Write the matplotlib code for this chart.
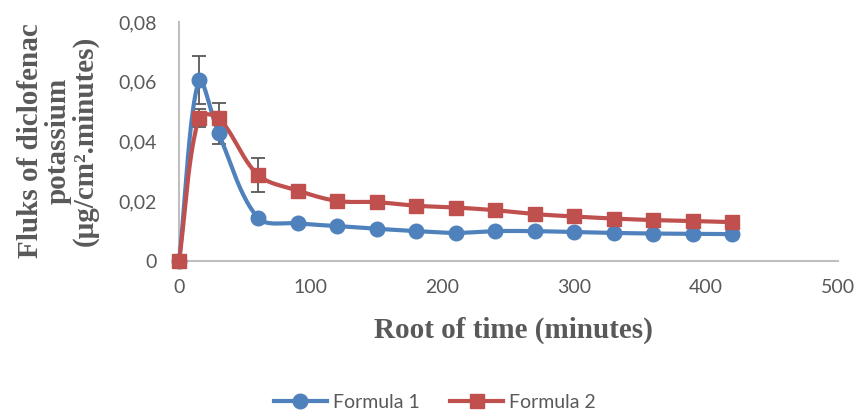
import numpy as np
import matplotlib
matplotlib.use("Agg")
import matplotlib.pyplot as plt
from matplotlib.ticker import FuncFormatter

time = [0, 15, 30, 60, 90, 120, 150, 180, 210, 240, 270, 300, 330, 360, 390, 420]
formula1 = [0, 0.0605, 0.0428, 0.0144, 0.0126, 0.0117, 0.0108, 0.0100, 0.0094, 0.0100,
            0.0100, 0.0097, 0.0094, 0.0092, 0.0091, 0.0090]
formula2 = [0, 0.0480, 0.0478, 0.0288, 0.0236, 0.0201, 0.0197, 0.0185, 0.0179, 0.0170,
            0.0157, 0.0149, 0.0142, 0.0137, 0.0134, 0.0130]
err1 = [0, 0.0080, 0.0035, 0.0008, 0.0006, 0.0005, 0.0005, 0.0004, 0.0004, 0.0004,
        0.0004, 0.0004, 0.0003, 0.0003, 0.0003, 0.0003]
err2 = [0, 0.0030, 0.0050, 0.0058, 0.0010, 0.0008, 0.0015, 0.0018, 0.0008, 0.0007,
        0.0006, 0.0006, 0.0005, 0.0005, 0.0005, 0.0005]
labels = ["Formula 1", "Formula 2"]
colors = ["#4f81bd", "#c0504d"]

fig = plt.figure(figsize=(8.61, 4.12), dpi=100)
ax = fig.add_axes([0.208, 0.3665, 0.765, 0.580])
ax.set_xlim(0, 500)
ax.set_ylim(0, 0.08)


def smooth(x, y, n=24):
    # chord-length weighted Bezier smoothing computed in display space
    pts = ax.transData.transform(np.column_stack([x, y]))
    P = np.vstack([pts[0], pts, pts[-1]])
    t = np.linspace(0, 1, n)[:, None]
    out = []
    for i in range(1, len(P) - 2):
        p0, p1, p2, p3 = P[i - 1], P[i], P[i + 1], P[i + 2]
        d01 = np.linalg.norm(p1 - p0); d12 = np.linalg.norm(p2 - p1); d23 = np.linalg.norm(p3 - p2)
        f1 = d12 / (d01 + d12) / 3 if d01 + d12 > 0 else 0
        f2 = d12 / (d12 + d23) / 3 if d12 + d23 > 0 else 0
        c1 = p1 + (p2 - p0) * f1
        c2 = p2 - (p3 - p1) * f2
        b = ((1 - t) ** 3) * p1 + 3 * ((1 - t) ** 2) * t * c1 + 3 * (1 - t) * t ** 2 * c2 + t ** 3 * p2
        out.append(b)
    out = np.vstack(out)
    return ax.transData.inverted().transform(out).T


gray = "#595959"
for ys, es, c, m, lab in [(formula1, err1, colors[0], "o", labels[0]),
                          (formula2, err2, colors[1], "s", labels[1])]:
    sx, sy = smooth(time, ys)
    ax.errorbar(time, ys, yerr=es, fmt="none", ecolor=gray, elinewidth=1.3,
                capsize=5, capthick=1.3, zorder=2)
    ax.plot(sx, sy, color=c, lw=3, zorder=3, solid_capstyle="round", clip_on=False)
    ax.plot(time, ys, linestyle="none", marker=m, color=c, markersize=10.5, zorder=4,
            clip_on=False)
    ax.plot([], [], color=c, lw=3, marker=m, markersize=10.5, label=lab)

ax.set_xticks(np.arange(0, 501, 100))
ax.set_yticks(np.arange(0, 0.081, 0.02))
ax.yaxis.set_major_formatter(FuncFormatter(lambda v, p: "0" if v == 0 else f"{v:.2f}".replace(".", ",")))
ax.tick_params(length=0, labelsize=14, colors=gray)
ax.tick_params(axis="y", pad=16)
ax.tick_params(axis="x", pad=13)
for lab in ax.get_xticklabels() + ax.get_yticklabels():
    lab.set_fontfamily("Lato")
for s in ["top", "right"]:
    ax.spines[s].set_visible(False)
for s in ["left", "bottom"]:
    ax.spines[s].set_color("#bfbfbf")
    ax.spines[s].set_linewidth(1.5)

fig.text(513 / 861, 1 - 330 / 412, "Root of time (minutes)", fontfamily="Liberation Serif",
         fontweight="bold", fontsize=21, color=gray, ha="center", va="center")
fig.text(58 / 861, 1 - 141 / 412, "Fluks of diclofenac\npotassium\n(μg/cm².minutes)",
         fontfamily="Liberation Serif", fontweight="bold", fontsize=21, color=gray,
         rotation=90, ha="center", va="center", multialignment="center", linespacing=1.0)

leg = fig.legend(loc="center", bbox_to_anchor=(0.505, 1 - 402 / 412), ncol=2, frameon=False,
                 prop={"family": "Lato", "size": 14}, labelcolor=gray,
                 handlelength=2.75, columnspacing=1.55, handletextpad=0.3, borderpad=0)

fig.savefig("out.png", dpi=100)
